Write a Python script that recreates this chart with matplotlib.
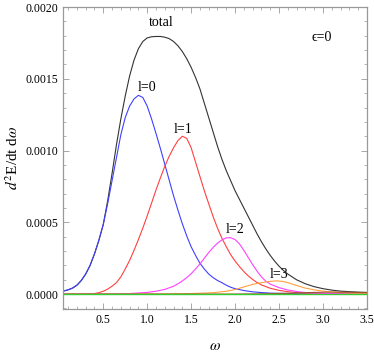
import matplotlib
matplotlib.use("Agg")
import matplotlib.pyplot as plt
from matplotlib.ticker import MultipleLocator, FormatStrFormatter

plt.rcParams['font.family'] = ['Liberation Serif', 'DejaVu Serif']
plt.rcParams['mathtext.fontset'] = 'stix'

# values, in units of 1e-4
w_l0 = [0.04, 0.10, 0.15, 0.20, 0.25, 0.30, 0.35, 0.40, 0.45, 0.50, 0.55, 0.60, 0.65, 0.70,
        0.75, 0.80, 0.85, 0.90, 0.95, 1.00, 1.05, 1.10, 1.15, 1.20, 1.25, 1.30, 1.35, 1.40,
        1.45, 1.50, 1.55, 1.60, 1.65, 1.70, 1.75, 1.80, 1.85, 1.90, 1.95, 2.00, 2.10, 2.20,
        2.30, 2.40, 2.60, 2.80, 3.00, 3.50]
v_l0 = [0.2, 0.3, 0.42, 0.62, 0.95, 1.4, 2.0, 2.8, 3.75, 4.85, 6.3, 7.9, 9.5, 11.1,
        12.3, 13.1, 13.6, 13.85, 13.7, 13.1, 12.2, 11.2, 10.15, 9.05, 7.95, 6.85, 5.85, 4.9,
        4.05, 3.3, 2.7, 2.15, 1.75, 1.4, 1.15, 0.95, 0.8, 0.62, 0.48, 0.38, 0.25, 0.16,
        0.11, 0.07, 0.04, 0.02, 0.01, 0.0]

w_l1 = [0.04, 0.30, 0.40, 0.45, 0.50, 0.55, 0.60, 0.65, 0.70, 0.75, 0.80, 0.85, 0.90, 0.95,
        1.00, 1.05, 1.10, 1.15, 1.20, 1.25, 1.30, 1.35, 1.40, 1.45, 1.50, 1.55, 1.60, 1.65,
        1.70, 1.75, 1.80, 1.85, 1.90, 1.95, 2.00, 2.05, 2.10, 2.15, 2.20, 2.25, 2.30, 2.40,
        2.50, 2.60, 2.70, 2.80, 3.00, 3.20, 3.50]
v_l1 = [0.0, 0.01, 0.04, 0.1, 0.2, 0.35, 0.55, 0.8, 1.2, 1.75, 2.35, 3.05, 3.8, 4.6,
        5.45, 6.35, 7.25, 8.1, 8.9, 9.6, 10.2, 10.7, 11.0, 10.85, 10.2, 9.2, 8.2, 7.2,
        6.3, 5.4, 4.6, 3.9, 3.3, 2.75, 2.3, 1.92, 1.57, 1.27, 1.02, 0.81, 0.64, 0.41,
        0.26, 0.17, 0.11, 0.07, 0.04, 0.02, 0.01]

w_l2 = [0.04, 0.60, 0.80, 1.00, 1.10, 1.20, 1.30, 1.35, 1.40, 1.45, 1.50, 1.55, 1.60, 1.65,
        1.70, 1.75, 1.80, 1.85, 1.90, 1.95, 2.00, 2.05, 2.10, 2.15, 2.20, 2.25, 2.30, 2.35,
        2.40, 2.50, 2.60, 2.70, 2.80, 2.90, 3.00, 3.20, 3.50]
v_l2 = [0.0, 0.01, 0.04, 0.12, 0.2, 0.33, 0.55, 0.72, 0.92, 1.15, 1.42, 1.75, 2.1, 2.5,
        2.9, 3.25, 3.55, 3.78, 3.92, 3.93, 3.8, 3.5, 3.05, 2.55, 2.05, 1.6, 1.2, 0.9,
        0.7, 0.45, 0.29, 0.18, 0.11, 0.07, 0.05, 0.025, 0.01]

w_l3 = [0.04, 1.20, 1.50, 1.75, 1.90, 2.00, 2.10, 2.20, 2.30, 2.40, 2.47, 2.55, 2.60, 2.70,
        2.80, 2.90, 3.00, 3.10, 3.20, 3.35, 3.50]
v_l3 = [0.0, 0.01, 0.04, 0.1, 0.2, 0.32, 0.5, 0.68, 0.8, 0.89, 0.925, 0.88, 0.8, 0.6,
        0.42, 0.3, 0.21, 0.15, 0.11, 0.07, 0.05]

w_l4 = [0.04, 2.00, 2.40, 2.70, 2.90, 3.10, 3.30, 3.50]
v_l4 = [0.0, 0.005, 0.03, 0.08, 0.12, 0.14, 0.13, 0.1]

w_tot = [0.04, 0.10, 0.15, 0.20, 0.25, 0.30, 0.35, 0.40, 0.45, 0.50, 0.55, 0.60, 0.65, 0.70,
         0.75, 0.80, 0.85, 0.90, 0.95, 1.00, 1.05, 1.10, 1.15, 1.20, 1.25, 1.30, 1.35, 1.40,
         1.45, 1.50, 1.55, 1.60, 1.65, 1.70, 1.75, 1.80, 1.85, 1.90, 1.95, 2.00, 2.05, 2.10,
         2.15, 2.20, 2.25, 2.30, 2.35, 2.40, 2.45, 2.50, 2.55, 2.60, 2.70, 2.80, 2.90, 3.00,
         3.10, 3.20, 3.30, 3.40, 3.50]
v_tot = [0.2, 0.3, 0.42, 0.62, 0.95, 1.4, 2.0, 2.8, 3.75, 4.85, 6.5, 8.4, 10.4, 12.2,
         13.8, 15.2, 16.3, 17.1, 17.6, 17.85, 17.93, 17.95, 17.95, 17.9, 17.8, 17.6, 17.3, 16.9,
         16.4, 15.8, 15.1, 14.3, 13.3, 12.3, 11.3, 10.3, 9.4, 8.6, 7.9, 7.2, 6.6, 6.0,
         5.4, 4.8, 4.2, 3.65, 3.15, 2.7, 2.3, 1.95, 1.65, 1.4, 1.0, 0.72, 0.52, 0.38,
         0.28, 0.21, 0.17, 0.14, 0.12]

w_zero = [0.04, 3.50]
v_zero = [0.0, 0.0]

def scale(v):
    return [a * 1e-4 for a in v]

fig = plt.figure(figsize=(3.74, 3.52), dpi=100)
ax = fig.add_axes([0.168, 0.122, 0.813, 0.858])

lw = 0.8
ax.plot(w_tot, scale(v_tot), color="#333333", lw=lw)
ax.plot(w_l0, scale(v_l0), color="#4040ff", lw=lw)
ax.plot(w_l1, scale(v_l1), color="#ff4040", lw=lw)
ax.plot(w_l2, scale(v_l2), color="#ff40ff", lw=lw)
ax.plot(w_l3, scale(v_l3), color="#ffa040", lw=lw)
ax.plot(w_l4, scale(v_l4), color="#a0522d", lw=lw)
ax.plot(w_zero, v_zero, color="#33cc33", lw=1.0)

# labels
fs = 10
ax.text(1.16, 0.00189, "total", fontsize=fs, ha="center", va="center")
ax.text(1.0, 0.00144, "l=0", fontsize=fs, ha="center", va="center")
ax.text(1.41, 0.00115, "l=1", fontsize=fs, ha="center", va="center")
ax.text(2.0, 0.000447, "l=2", fontsize=fs, ha="center", va="center")
ax.text(2.5, 0.000139, "l=3", fontsize=fs, ha="center", va="center")
ax.text(2.99, 0.00179, "\u03f5=0", fontsize=fs, ha="center", va="center",
        family=["Liberation Serif", "DejaVu Serif"])

ax.set_xlim(0.04, 3.5)
ax.set_ylim(-0.000104, 0.002)

ax.xaxis.set_major_locator(MultipleLocator(0.5))
ax.xaxis.set_minor_locator(MultipleLocator(0.1))
ax.yaxis.set_major_locator(MultipleLocator(0.0005))
ax.yaxis.set_minor_locator(MultipleLocator(0.0001))
ax.xaxis.set_major_formatter(FormatStrFormatter("%.1f"))
ax.yaxis.set_major_formatter(FormatStrFormatter("%.4f"))

for s in ax.spines.values():
    s.set_color("#999999")
    s.set_linewidth(0.9)
ax.tick_params(which="both", direction="in", top=True, right=True, colors="#999999",
               labelcolor="black", labelsize=8.5)
ax.tick_params(which="major", length=4, width=0.6)
ax.tick_params(which="minor", length=2, width=0.5)

ax.set_xlabel(r"$\omega$", fontsize=11, labelpad=10)
ax.set_ylabel(r"$d^2$E/dt d$\omega$", fontsize=11, labelpad=3)

fig.savefig("out.png", dpi=100)
